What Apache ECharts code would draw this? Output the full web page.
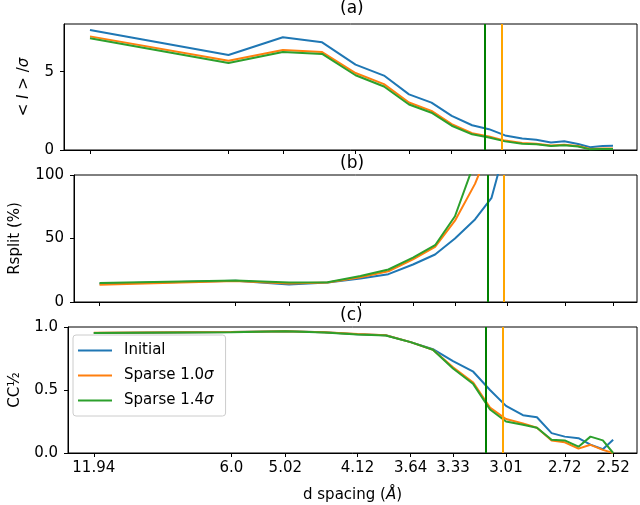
<!DOCTYPE html>
<html><head><meta charset="utf-8">
<script src="https://cdn.jsdelivr.net/npm/echarts@6/dist/echarts.min.js"></script>
<style>html,body{margin:0;padding:0;background:#fff}#c{width:640px;height:505px}</style>
</head><body><div id="c"></div>
<script>
// d spacing (Å) of each resolution bin
const dSpacing = [11.94, 6.0, 5.02, 4.49, 4.12, 3.85, 3.64, 3.47, 3.33, 3.20, 3.10, 3.01, 2.92, 2.85, 2.78, 2.72, 2.66, 2.61, 2.56, 2.52];
const tickLabels = ['11.94', '6.0', '5.02', '4.12', '3.64', '3.33', '3.01', '2.72', '2.52'];
const seriesNames = ['Initial', 'Sparse 1.0σ', 'Sparse 1.4σ'];
const cutoffD = [3.11, 3.01];

// (a) <I>/sigma
const iSigInitial  = [7.66, 6.06, 7.19, 6.87, 5.45, 4.75, 3.55, 3.02, 2.18, 1.58, 1.33, 0.93, 0.73, 0.66, 0.48, 0.56, 0.38, 0.17, 0.26, 0.27];
const iSigSparse10 = [7.25, 5.70, 6.38, 6.25, 4.91, 4.20, 3.03, 2.50, 1.65, 1.07, 0.87, 0.60, 0.44, 0.40, 0.29, 0.34, 0.25, 0.06, 0.09, 0.10];
const iSigSparse14 = [7.13, 5.55, 6.25, 6.13, 4.77, 4.05, 2.90, 2.38, 1.55, 1.00, 0.80, 0.55, 0.40, 0.37, 0.26, 0.31, 0.22, 0.04, 0.06, 0.07];

// (b) Rsplit (%)
const rsInitial  = [14.3, 16.8, 13.8, 15.3, 18.5, 21.9, 29.5, 37.4, 50.0, 65.0, 82.0, 128, 150, 165, 180, 190, 200, 210, 220, 230];
const rsSparse10 = [13.5, 16.5, 14.5, 15.3, 19.5, 24.2, 33.5, 43.4, 64.0, 93.0, 125, 145, 160, 175, 190, 200, 210, 220, 230, 240];
const rsSparse14 = [15.0, 17.0, 15.3, 15.6, 20.5, 25.6, 35.0, 44.7, 67.5, 111, 135, 150, 165, 180, 195, 205, 215, 225, 235, 245];

// (c) CC1/2
const ccInitial  = [0.953, 0.960, 0.966, 0.958, 0.942, 0.934, 0.88, 0.824, 0.73, 0.645, 0.50, 0.374, 0.30, 0.284, 0.158, 0.13, 0.118, 0.066, 0.03, 0.105];
const ccSparse10 = [0.955, 0.960, 0.966, 0.958, 0.945, 0.935, 0.88, 0.82, 0.68, 0.56, 0.36, 0.27, 0.235, 0.20, 0.10, 0.085, 0.035, 0.065, 0.025, 0.0];
const ccSparse14 = [0.953, 0.958, 0.966, 0.956, 0.940, 0.932, 0.88, 0.82, 0.67, 0.547, 0.345, 0.25, 0.224, 0.20, 0.105, 0.10, 0.05, 0.13, 0.10, 0.0];

const FONT = 'DejaVu Sans';
const FS = 15;
const colors = ['#1f77b4', '#ff7f0e', '#2ca02c'];
const cutColors = ['#008000', '#FFA500'];
const invD = d => 1 / d;
const tickVals = tickLabels.map(s => invD(parseFloat(s)));
const X_MIN = 0.0682, X_MAX = 0.4112;

const panels = [
  { data: [iSigInitial, iSigSparse10, iSigSparse14], min: 0, max: 8.04, ticks: [0, 5], fmt: v => String(v),
    name: '< {i|I} > /{i|σ}', gap: 32 },
  { data: [rsInitial, rsSparse10, rsSparse14], min: 0, max: 100, ticks: [0, 50, 100], fmt: v => String(v),
    name: 'Rsplit (%)', gap: 51 },
  { data: [ccInitial, ccSparse10, ccSparse14], min: 0, max: 1, ticks: [0, 0.5, 1], fmt: v => v.toFixed(1),
    name: 'CC½', gap: 45 }
];
const gridPos = [{ top: 24, height: 126 }, { top: 175, height: 127 }, { top: 327, height: 126 }];

const grids = gridPos.map(g => ({ left: 64, right: 3, top: g.top, height: g.height, show: true,
  borderColor: '#000', borderWidth: 1, backgroundColor: 'transparent' }));

const richI = { i: { fontStyle: 'italic', fontSize: FS, fontFamily: FONT, color: '#000' } };

const xAxes = panels.map((p, i) => ({
  type: 'value', gridIndex: i, min: X_MIN, max: X_MAX,
  axisLine: { show: true, onZero: false, lineStyle: { color: '#000', width: 1 } },
  axisTick: { show: true, customValues: tickVals, length: 4, lineStyle: { color: '#000' } },
  axisLabel: { show: i === 2, customValues: tickVals, color: '#000', fontSize: FS, fontFamily: FONT, margin: 8,
    formatter: v => { let best = 0, bd = 1e9; tickVals.forEach((t, k) => { if (Math.abs(t - v) < bd) { bd = Math.abs(t - v); best = k; } }); return tickLabels[best]; } },
  splitLine: { show: false },
  name: i === 2 ? 'd spacing ({i|Å})' : '', nameLocation: 'middle', nameGap: 35,
  nameTextStyle: { color: '#000', fontSize: FS, fontFamily: FONT, rich: richI }
}));

const yAxes = panels.map((p, i) => ({
  type: 'value', gridIndex: i, min: p.min, max: p.max,
  axisLine: { show: true, lineStyle: { color: '#000', width: 1 } },
  axisTick: { show: true, customValues: p.ticks, length: 4, lineStyle: { color: '#000' } },
  axisLabel: { customValues: p.ticks, color: '#000', fontSize: FS, fontFamily: FONT, margin: 10, formatter: p.fmt },
  splitLine: { show: false },
  name: p.name, nameLocation: 'middle', nameRotate: 90, nameGap: p.gap,
  nameTextStyle: { color: '#000', fontSize: FS, fontFamily: FONT, rich: richI }
}));

const series = [];
panels.forEach((p, gi) => {
  p.data.forEach((arr, si) => {
    const s = {
      type: 'line', name: seriesNames[si], xAxisIndex: gi, yAxisIndex: gi,
      data: dSpacing.map((d, k) => [invD(d), arr[k]]),
      symbol: 'none', clip: true, animation: false,
      lineStyle: { color: colors[si], width: 2 }, itemStyle: { color: colors[si] }
    };
    if (si === 2) {
      s.markLine = { silent: true, symbol: ['none', 'none'], animation: false, label: { show: false },
        lineStyle: { type: 'solid', width: 2 },
        data: cutoffD.map((d, k) => ({ xAxis: invD(d), lineStyle: { color: cutColors[k], type: 'solid', width: 2 } })) };
    }
    series.push(s);
  });
});

const titles = ['(a)', '(b)', '(c)'];
const titleY = [10, 165, 317];

const chart = echarts.init(document.getElementById('c'), null, { renderer: 'canvas' });
chart.setOption({
  animation: false,
  grid: grids, xAxis: xAxes, yAxis: yAxes, series,
  legend: {
    data: seriesNames.map(n => ({ name: n, icon: 'rect' })), orient: 'vertical', left: 73, top: 335,
    itemWidth: 34, itemHeight: 2, itemGap: 8,
    padding: [7, 12, 7, 5], backgroundColor: 'rgba(255,255,255,0.85)', borderColor: '#cccccc', borderWidth: 1, borderRadius: 3,
    textStyle: { color: '#000', fontSize: FS, lineHeight: 17, fontFamily: FONT, padding: [0, 0, 0, 7], rich: { i: { fontStyle: 'italic', fontSize: FS, lineHeight: 17, fontFamily: FONT, color: '#000' } } },
    formatter: n => n.replace('σ', '{i|σ}')
  },
  graphic: titles.map((t, i) => ({ type: 'text', left: 350 - 10, top: titleY[i] - 10,
    style: { text: t, fontSize: 17, fontFamily: FONT, fill: '#000' } }))
});
</script></body></html>
